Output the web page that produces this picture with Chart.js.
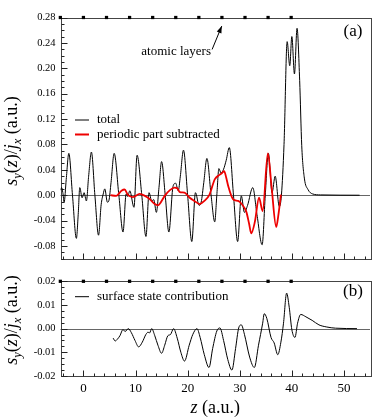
<!DOCTYPE html>
<html><head><meta charset="utf-8">
<script src="https://cdn.jsdelivr.net/npm/chart.js@4/dist/chart.umd.min.js"></script>
<style>
html,body{margin:0;padding:0;background:#fff;}
#wrap{position:relative;width:374px;height:417px;}
.c{position:absolute;left:0;width:374px;}
</style></head><body>
<div id="wrap">
<div class="c" style="top:0;height:270px"><canvas id="ca"></canvas></div>
<div class="c" style="top:270px;height:147px"><canvas id="cb"></canvas></div>
</div>
<script>
// ---- data (z in a.u.) ----
const zTotal = [-4.4,-4.2,-3.95,-3.7,-3.3,-2.8,-2.1,-1.35,-1.0,-0.7,-0.25,0.13,0.57,1.0,1.53,2.2,2.9,3.4,3.8,4.1,4.6,4.9,5.3,5.9,6.8,7.6,8.2,8.5,8.9,9.7,10.3,11.2,12.0,12.6,13.1,13.5,14.0,14.5,15.0,15.7,16.4,17.2,17.7,18.2,18.6,19.2,20.0,20.8,21.5,22.2,22.6,23.1,23.7,24.5,25.2,25.6,26.0,26.4,26.9,27.4,28.0,28.8,29.6,30.3,30.9,31.5,32.5,33.3,34.3,34.9,35.5,36.2,36.8,37.6,38.0,38.5,39.1,39.6,40.0,40.5,41.0,41.5,41.9,42.4,43.1,44.0,45.5,53.0];
const sTotal = [0.008,0.012,0.004,-0.011,0.025,0.066,0.0,-0.068,-0.03,0.012,-0.004,0.004,-0.009,0.03,0.068,0.0,-0.063,-0.015,0.002,0.010,-0.011,-0.008,0.02,0.066,0.0,-0.058,0.002,-0.002,0.007,-0.019,0.063,0.0,-0.065,0.004,-0.009,-0.007,-0.027,0.012,0.053,0.0,-0.058,0.014,0.019,0.007,0.03,0.071,0.0,-0.073,0.004,-0.016,-0.011,0.02,0.058,0.0,-0.042,0.0,0.042,0.035,0.041,0.055,0.075,0.0,-0.073,-0.001,-0.027,-0.016,0.012,-0.03,-0.078,0.0,0.066,0.004,0.030,-0.018,0.0,0.08,0.242,0.204,0.250,0.191,0.263,0.181,0.078,0.027,0.009,0.002,0.0005,0.0];
const zPeriodic = [5.2,6.3,7.3,7.9,8.5,9.5,10.8,11.8,12.7,13.7,14.3,14.7,15.6,16.6,17.5,18.0,18.5,19.4,20.4,21.3,22.3,23.2,24.2,25.2,26.1,26.6,27.0,27.4,27.8,28.7,29.7,30.3,30.9,31.3,31.8,32.2,32.9,33.7,34.4,35.4,36.1,37.0,37.4,37.9];
const sPeriodic = [0.0,-0.001,0.007,0.009,0.001,-0.003,0.002,-0.001,-0.006,-0.014,-0.016,-0.013,-0.001,0.008,0.012,0.011,0.005,0.004,-0.004,-0.009,-0.014,-0.009,0.001,0.025,0.032,0.035,0.038,0.028,0.014,-0.006,-0.009,-0.013,-0.020,-0.027,-0.045,-0.060,-0.042,-0.004,-0.025,0.066,0.014,-0.050,-0.032,0.001];
const zSurface = [5.7,6.1,6.5,7.0,7.6,8.0,8.6,9.2,9.9,10.6,11.3,12.0,12.4,12.7,13.1,13.7,14.3,15.0,15.6,16.2,16.7,17.3,18.0,18.7,19.4,20.3,21.0,21.8,22.4,23.2,24.1,24.8,25.6,26.2,26.9,27.7,28.5,29.2,29.8,30.3,30.9,31.9,32.8,33.6,34.4,34.7,35.2,36.0,36.6,37.3,37.9,38.4,39.0,39.5,40.0,40.6,41.1,41.7,42.7,43.9,45.2,46.7,48.4,52.5];
const sSurface = [-0.0040,-0.0052,-0.0045,-0.003,-0.0004,-0.0012,0.0,-0.0017,-0.005,-0.0077,-0.0057,-0.0024,-0.0015,-0.0018,0.0,-0.003,-0.007,-0.0104,-0.007,-0.003,-0.0025,0.0,-0.004,-0.010,-0.0137,-0.007,-0.0024,0.0,-0.0037,-0.011,-0.0164,-0.0084,-0.001,0.0003,-0.005,-0.013,-0.0175,-0.0084,0.0003,0.0016,-0.0024,-0.012,-0.0164,-0.007,0.0023,0.0063,0.0043,-0.0037,-0.006,-0.011,-0.0057,0.0023,0.015,0.009,-0.0004,-0.0037,0.0023,0.006,0.005,0.0035,0.0016,0.0007,0.0002,0.0];
const layerZ = [-4.43,0,4.43,8.86,13.29,17.72,22.15,26.58,31.01,35.44,39.87];
const xTickValues = [0,10,20,30,40,50];
const yTicksTop = [-0.08,-0.04,0.00,0.04,0.08,0.12,0.16,0.20,0.24,0.28];
const yTicksBottom = [-0.02,-0.01,0.00,0.01,0.02];

const SERIF = '"Liberation Serif", "DejaVu Serif", serif';
const pts = (xs, ys) => xs.map((x, i) => ({x, y: ys[i]}));

function richText(ctx, segs, size, cx, cy, rot) {
  ctx.save();
  ctx.translate(cx, cy);
  if (rot) ctx.rotate(rot);
  ctx.textBaseline = 'alphabetic';
  ctx.textAlign = 'left';
  const fontOf = s => (s.it ? 'italic ' : '') + (s.sub ? size * 0.7 : size) + 'px ' + SERIF;
  let w = 0;
  segs.forEach(s => { ctx.font = fontOf(s); w += ctx.measureText(s.t).width; });
  let x = -w / 2;
  const base = size * 0.32;
  segs.forEach(s => {
    ctx.font = fontOf(s);
    ctx.fillStyle = '#000';
    ctx.fillText(s.t, x, base + (s.sub ? size * 0.25 : 0));
    x += ctx.measureText(s.t).width;
  });
  ctx.restore();
}
const yTitle = [{t:'s',it:1},{t:'y',it:1,sub:1},{t:'('},{t:'z',it:1},{t:')/'},{t:'j',it:1},{t:'x',it:1,sub:1},{t:' (a.u.)'}];

const decor = {
  id: 'decor',
  beforeDatasetsDraw(chart, args, o) {
    const {ctx, chartArea: a, scales: {x, y}} = chart;
    ctx.save();
    // zero line
    const y0 = Math.round(y.getPixelForValue(0)) + 0.5;
    ctx.strokeStyle = '#666'; ctx.lineWidth = 1;
    ctx.beginPath(); ctx.moveTo(a.left, y0); ctx.lineTo(a.right, y0); ctx.stroke();
    // frame
    ctx.strokeStyle = '#444';
    ctx.strokeRect(Math.round(a.left) + 0.5, Math.round(a.top) + 0.5, Math.round(a.right - a.left), Math.round(a.bottom - a.top));
    // ticks
    ctx.strokeStyle = '#222';
    ctx.beginPath();
    const bot = Math.round(a.bottom) + 0.5;
    for (let k = Math.ceil(x.min / 2); k * 2 <= x.max; k++) {
      const px = Math.round(x.getPixelForValue(k * 2)) + 0.5;
      const len = (k % 5 === 0) ? 6 : 3;
      ctx.moveTo(px, bot); ctx.lineTo(px, bot - len);
    }
    const lft = Math.round(a.left) + 0.5;
    const r = Math.round(o.yMajor / o.yMinor);
    for (let k = Math.ceil(y.min / o.yMinor - 1e-6); k * o.yMinor <= y.max + 1e-9; k++) {
      const py = Math.round(y.getPixelForValue(k * o.yMinor)) + 0.5;
      const len = (k % r === 0) ? 6 : 3;
      ctx.moveTo(lft, py); ctx.lineTo(lft + len, py);
    }
    ctx.stroke();
    ctx.restore();
  },
  afterDatasetsDraw(chart, args, o) {
    const {ctx, chartArea: a, scales: {x, y}} = chart;
    ctx.save();
    // legend
    ctx.font = '13px ' + SERIF;
    ctx.textBaseline = 'middle';
    ctx.textAlign = 'left';
    o.legend.forEach(l => {
      ctx.strokeStyle = l.color; ctx.lineWidth = l.width;
      ctx.beginPath(); ctx.moveTo(75, l.y); ctx.lineTo(89, l.y); ctx.stroke();
      ctx.fillStyle = '#000';
      ctx.fillText(l.text, 97, l.y);
    });
    // panel label
    ctx.font = '17px ' + SERIF;
    ctx.textAlign = 'center';
    ctx.fillText(o.panel, 353, o.panelY);
    // annotation
    if (o.annot) {
      ctx.font = '13px ' + SERIF;
      ctx.textAlign = 'right';
      ctx.fillText('atomic layers', 211, 52);
      const x1 = x.getPixelForValue(24.7), y1 = y.getPixelForValue(0.2297);
      const x2 = x.getPixelForValue(26.55), y2 = y.getPixelForValue(0.2665);
      ctx.strokeStyle = '#000'; ctx.lineWidth = 1;
      ctx.beginPath(); ctx.moveTo(x1, y1); ctx.lineTo(x2, y2); ctx.stroke();
      const ang = Math.atan2(y2 - y1, x2 - x1);
      ctx.beginPath();
      ctx.moveTo(x2, y2);
      ctx.lineTo(x2 - 7 * Math.cos(ang) + 2.5 * Math.sin(ang), y2 - 7 * Math.sin(ang) - 2.5 * Math.cos(ang));
      ctx.lineTo(x2 - 7 * Math.cos(ang) - 2.5 * Math.sin(ang), y2 - 7 * Math.sin(ang) + 2.5 * Math.cos(ang));
      ctx.closePath(); ctx.fillStyle = '#000'; ctx.fill();
    }
    // y title
    richText(ctx, yTitle, 18, 11, o.titleY, -Math.PI / 2);
    // x title
    if (o.xTitle) {
      richText(ctx, [{t:'z',it:1},{t:' (a.u.)'}], 18, (a.left + a.right) / 2, o.xTitleY, 0);
    }
    ctx.restore();
  }
};

function yScale(min, max, ticksArr) {
  return {
    type: 'linear', min, max,
    afterBuildTicks: s => { s.ticks = ticksArr.map(v => ({value: v})); },
    afterFit: s => { s.width = 60.5; },
    grid: {display: false, drawTicks: false},
    border: {display: false},
    ticks: {
      font: {family: SERIF, size: 10.5}, color: '#000', padding: 5,
      callback: v => (Math.abs(v) < 1e-9 ? 0 : v).toFixed(2)
    }
  };
}
const layerDataset = yv => ({
  label: 'layers', data: layerZ.map(z => ({x: z, y: yv})),
  showLine: false, pointStyle: 'rect', pointRadius: 2.3, pointBackgroundColor: '#000',
  pointBorderWidth: 0, clip: false, order: -1
});
const lineDs = (label, data, color, w, order) => ({
  label, data, borderColor: color, borderWidth: w, pointRadius: 0,
  cubicInterpolationMode: 'monotone', fill: false, order
});

Chart.register(decor);

new Chart(document.getElementById('ca'), {
  type: 'line',
  data: {datasets: [
    lineDs('periodic part subtracted', pts(zPeriodic, sPeriodic), '#ee0000', 1.8, 0),
    lineDs('total', pts(zTotal, sTotal), '#000', 1, 1),
    layerDataset(0.28)
  ]},
  options: {
    responsive: true, maintainAspectRatio: false, animation: false, devicePixelRatio: 1,
    layout: {padding: {left: 0, right: 4, top: 17.5, bottom: 5.5}},
    plugins: {
      legend: {display: false}, tooltip: {enabled: false},
      decor: {
        yMinor: 0.01, yMajor: 0.04,
        legend: [{text: 'total', color: '#000', width: 1, y: 120}, {text: 'periodic part subtracted', color: '#ee0000', width: 2, y: 134.5}],
        panel: '(a)', panelY: 32, annot: true, titleY: 141
      }
    },
    scales: {
      x: {type: 'linear', min: -4.4, max: 55, display: false},
      y: yScale(-0.1, 0.28, yTicksTop)
    }
  }
});

new Chart(document.getElementById('cb'), {
  type: 'line',
  data: {datasets: [
    lineDs('surface state contribution', pts(zSurface, sSurface), '#000', 1, 0),
    layerDataset(0.02)
  ]},
  options: {
    responsive: true, maintainAspectRatio: false, animation: false, devicePixelRatio: 1,
    layout: {padding: {left: 0, right: 4, top: 5.7, bottom: 0}},
    plugins: {
      legend: {display: false}, tooltip: {enabled: false},
      decor: {
        yMinor: 0.0025, yMajor: 0.01,
        legend: [{text: 'surface state contribution', color: '#000', width: 1, y: 26.7}],
        panel: '(b)', panelY: 21.7, annot: false, titleY: 50, xTitle: true, xTitleY: 137.5
      }
    },
    scales: {
      x: {
        type: 'linear', min: -4.4, max: 55,
        afterBuildTicks: s => { s.ticks = xTickValues.map(v => ({value: v})); },
        afterFit: s => { s.height = 41; },
        grid: {display: false, drawTicks: false},
        border: {display: false},
        ticks: {font: {family: SERIF, size: 13}, color: '#000', padding: 5, maxRotation: 0, autoSkip: false}
      },
      y: yScale(-0.02, 0.02, yTicksBottom)
    }
  }
});
</script>
</body></html>
